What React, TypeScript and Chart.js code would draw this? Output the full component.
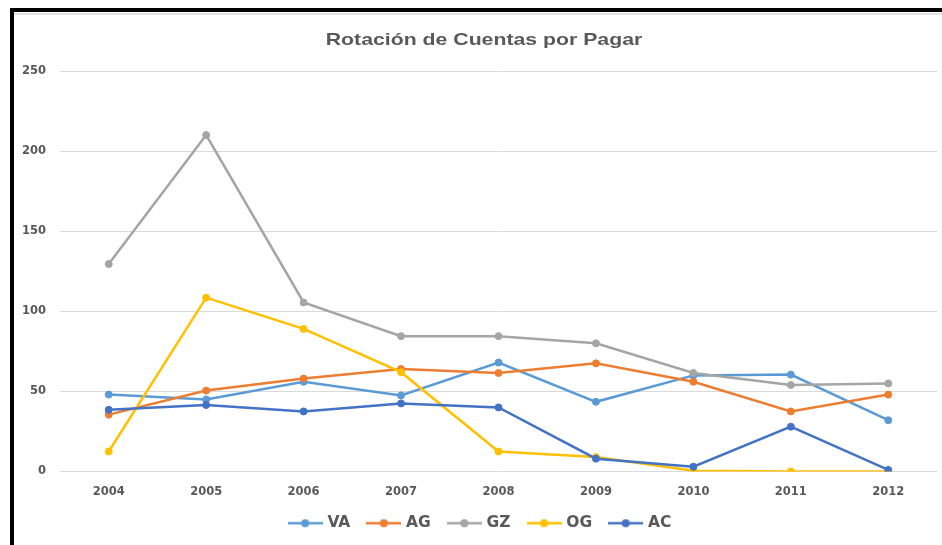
import React, { useEffect, useRef } from "react";
import { Chart, registerables } from "chart.js";

Chart.register(...registerables);

const title = "Rotación de Cuentas por Pagar";
const years = ["2004", "2005", "2006", "2007", "2008", "2009", "2010", "2011", "2012"];
const seriesNames = ["VA", "AG", "GZ", "OG", "AC"];
const seriesColors = ["#5B9BD5", "#ED7D31", "#A5A5A5", "#FFC000", "#4472C4"];
const vaValues = [48, 45, 56, 47.5, 68, 43.5, 60, 60.5, 32];
const agValues = [35.5, 50.5, 58, 64, 61.5, 67.5, 56, 37.5, 48];
const gzValues = [129.5, 210, 105.5, 84.5, 84.5, 80, 61.5, 54, 55];
const ogValues = [12.5, 108.5, 89, 62, 12.5, 9, 0.5, 0, 0];
const acValues = [38.5, 41.5, 37.5, 42.5, 40, 8, 3, 28, 1];
const seriesValues = [vaValues, agValues, gzValues, ogValues, acValues];
const yMin = 0;
const yMax = 250;
const yStep = 50;

function makeLegendIcon(color: string): HTMLCanvasElement {
  const c = document.createElement("canvas");
  c.width = 35;
  c.height = 10;
  const ctx = c.getContext("2d")!;
  ctx.strokeStyle = color;
  ctx.lineWidth = 2.5;
  ctx.beginPath();
  ctx.moveTo(0, 5);
  ctx.lineTo(35, 5);
  ctx.stroke();
  ctx.fillStyle = color;
  ctx.beginPath();
  ctx.arc(17.5, 5, 4, 0, Math.PI * 2);
  ctx.fill();
  return c;
}

const titlePlugin = {
  id: "wideTitle",
  afterDraw(chart: any) {
    const ctx = chart.ctx;
    ctx.save();
    ctx.font = "bold 17px 'Liberation Sans', Arial, sans-serif";
    ctx.fillStyle = "#595959";
    ctx.textAlign = "center";
    ctx.textBaseline = "alphabetic";
    ctx.translate(484, 45);
    ctx.scale(1.25, 1);
    ctx.fillText(title, 0, 0);
    ctx.restore();
  },
};

export default function App() {
  const canvasRef = useRef<HTMLCanvasElement | null>(null);

  useEffect(() => {
    if (!canvasRef.current) return;
    const icons = seriesColors.map(makeLegendIcon);
    const n = seriesNames.length;
    const chart = new Chart(canvasRef.current, {
      type: "line",
      data: {
        labels: years,
        datasets: seriesNames.map((name, i) => ({
          label: name,
          data: seriesValues[i],
          borderColor: seriesColors[i],
          backgroundColor: seriesColors[i],
          pointBackgroundColor: seriesColors[i],
          pointBorderColor: seriesColors[i],
          borderWidth: 2.5,
          pointRadius: 3.5,
          pointBorderWidth: 1,
          tension: 0,
          fill: false,
          order: n - i,
        })),
      },
      plugins: [titlePlugin],
      options: {
        responsive: false,
        devicePixelRatio: 1,
        animation: false,
        layout: { padding: { left: 20, right: 0, top: 71, bottom: 0 } },
        plugins: {
          tooltip: { enabled: false },
          title: { display: false },
          legend: {
            display: true,
            position: "bottom",
            labels: {
              usePointStyle: true,
              pointStyleWidth: 29,
              padding: 19,
              color: "#595959",
              font: { family: "'DejaVu Sans', Verdana, sans-serif", size: 15.5, weight: "bold" },
              generateLabels: (c: any) =>
                c.data.datasets.map((ds: any, i: number) => ({
                  text: ds.label,
                  pointStyle: icons[i],
                  fillStyle: seriesColors[i],
                  strokeStyle: seriesColors[i],
                  lineWidth: 0,
                  hidden: false,
                  datasetIndex: i,
                  fontColor: "#595959",
                })),
            },
          },
        },
        scales: {
          x: {
            offset: true,
            grid: { display: false, drawTicks: false },
            border: { display: false },
            ticks: {
              color: "#595959",
              padding: 14,
              font: { family: "'DejaVu Sans', Verdana, sans-serif", size: 11.5, weight: "bold" },
            },
            afterFit: (scale: any) => {
              scale.height = 25;
            },
          },
          y: {
            min: yMin,
            max: yMax,
            ticks: {
              stepSize: yStep,
              color: "#595959",
              padding: 14,
              font: { family: "'DejaVu Sans', Verdana, sans-serif", size: 11.5, weight: "bold" },
            },
            grid: { color: "#D9D9D9", lineWidth: 1, drawTicks: false },
            border: { display: false },
            afterFit: (scale: any) => {
              scale.width = 40;
            },
          },
        },
      } as any,
    });
    return () => chart.destroy();
  }, []);

  return (
    <div
      style={{
        position: "fixed",
        left: 0,
        top: 0,
        width: 942,
        height: 545,
        overflow: "hidden",
        background: "#ffffff",
      }}
    >
      <canvas
        ref={canvasRef}
        width={942}
        height={541}
        style={{ position: "absolute", left: 0, top: 0, width: 942, height: 541 }}
      />
      <div style={{ position: "absolute", left: 14, top: 13, width: 928, height: 2, background: "#E3E3E3" }} />
      <div style={{ position: "absolute", left: 10, top: 8, width: 932, height: 4, background: "#000" }} />
      <div style={{ position: "absolute", left: 10, top: 8, width: 4, height: 537, background: "#000" }} />
    </div>
  );
}
